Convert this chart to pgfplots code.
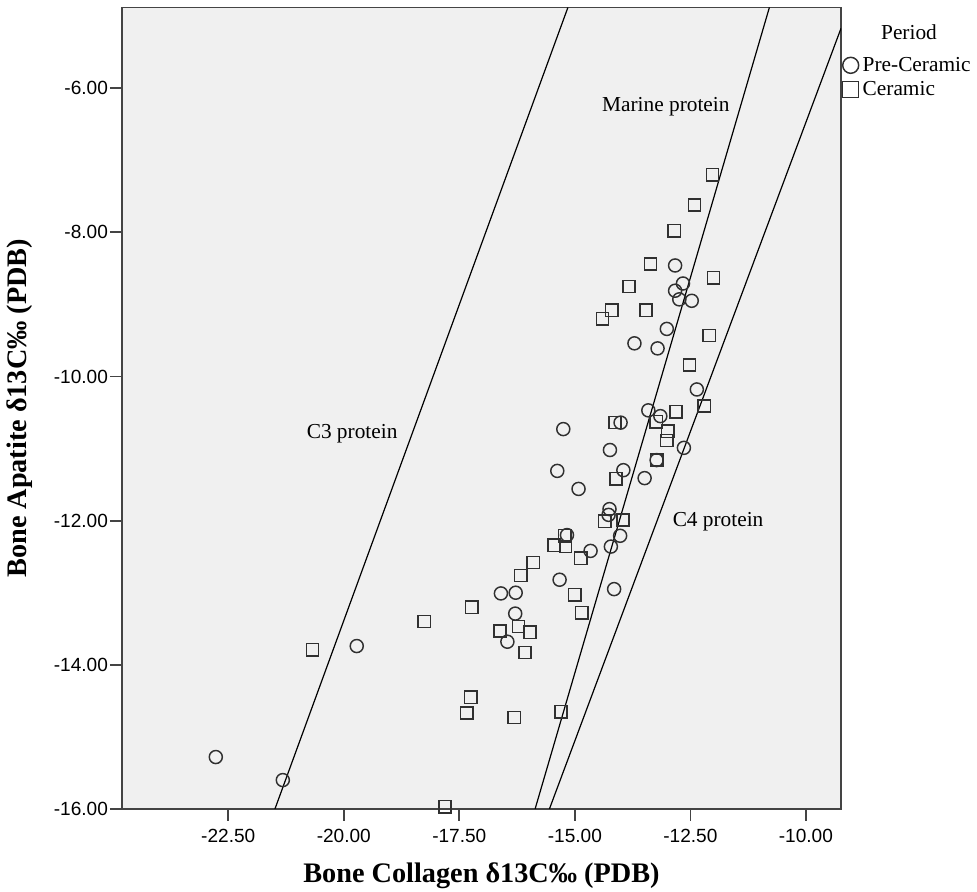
\documentclass[border=0pt]{standalone}
\usepackage{fontspec}
\setmainfont{Liberation Serif}
\newfontfamily\sansf{Liberation Sans}
\usepackage{pgfplots}
\pgfplotsset{compat=1.18}
\definecolor{bggray}{HTML}{F0F0F0}
\definecolor{framegray}{HTML}{444444}
\definecolor{markgray}{HTML}{303030}

\begin{document}
\begin{tikzpicture}
\begin{axis}[
  name=ax,
  scale only axis,
  width=539.25pt, height=601.1pt,
  xmin=-24.8, xmax=-9.24, ymin=-16, ymax=-4.88,
  xtick={-22.5,-20,-17.5,-15,-12.5,-10},
  ytick={-16,-14,-12,-10,-8,-6},
  xtick pos=bottom, ytick pos=left,
  tick align=outside,
  major tick length=9pt,
  tick style={framegray, line width=1.3pt},
  axis line style={framegray, line width=1.3pt},
  axis background/.style={fill=bggray},
  scaled ticks=false,
  /pgf/number format/fixed,
  /pgf/number format/fixed zerofill,
  /pgf/number format/precision=2,
  /pgf/number format/assume math mode=true,
  tick label style={font=\sansf\fontsize{14.3}{16}\selectfont, text=black},
  xticklabel style={yshift=-3pt},
  yticklabel style={xshift=2pt},
  xlabel={Bone Collagen δ13C‰ (PDB)},
  ylabel={Bone Apatite δ13C‰ (PDB)},
  label style={font=\bfseries\fontsize{21.2}{24}\selectfont},
  xlabel style={at={(axis description cs:0.5,-0.0836)}, anchor=center},
  ylabel style={at={(axis description cs:-0.1419,0.5)}, anchor=center},
  legend style={at={(axis description cs:1.002,0.9407)}, anchor=north west,
    draw=none, fill=none, inner sep=0pt, row sep=3pt,
    font=\fontsize{16}{18}\selectfont, nodes={inner xsep=3pt, inner ysep=1.5pt}},
  legend cell align=left,
  legend image post style={mark size=6pt},
]
% reference lines
\addplot[black, line width=0.9pt, forget plot] coordinates {(-21.49,-16) (-15.15,-4.88)};
\addplot[black, line width=0.9pt, forget plot] coordinates {(-15.86,-16) (-10.79,-4.88)};
\addplot[black, line width=0.9pt, forget plot] coordinates {(-15.55,-16) (-9.24,-5.17)};

% Pre-Ceramic
\addplot[only marks, mark=o, mark size=4.9pt, color=markgray, mark options={line width=1.1pt}] coordinates {
  (-22.77,-15.28) (-21.32,-15.60) (-19.72,-13.74) (-16.29,-13.29) (-16.46,-13.68)
  (-16.60,-13.01) (-16.28,-13.00) (-15.33,-12.82) (-14.15,-12.95) (-14.66,-12.42)
  (-14.22,-12.36) (-15.17,-12.20) (-14.02,-12.21) (-14.25,-11.84) (-14.27,-11.92)
  (-14.92,-11.56) (-15.38,-11.31) (-15.25,-10.73) (-14.24,-11.02) (-14.01,-10.64)
  (-13.95,-11.30) (-13.49,-11.41) (-13.41,-10.47) (-13.15,-10.55) (-12.64,-10.99)
  (-13.23,-11.16) (-12.36,-10.18) (-13.71,-9.54) (-13.21,-9.61) (-13.01,-9.34)
  (-12.83,-8.46) (-12.66,-8.71) (-12.83,-8.81) (-12.74,-8.93) (-12.47,-8.95)
};
\addlegendentry{Pre-Ceramic}

% Ceramic
\addplot[only marks, mark=square, mark size=4.6pt, color=markgray, mark options={line width=1.1pt}] coordinates {
  (-20.68,-13.79) (-18.26,-13.40) (-17.23,-13.20) (-16.22,-13.47) (-16.62,-13.53)
  (-15.97,-13.55) (-16.08,-13.83) (-17.25,-14.45) (-17.34,-14.67) (-16.31,-14.73)
  (-15.30,-14.65) (-17.81,-15.97) (-14.85,-13.28) (-15.00,-13.03) (-15.90,-12.58)
  (-16.17,-12.76) (-14.87,-12.52) (-15.45,-12.34) (-15.20,-12.36) (-15.22,-12.21)
  (-14.35,-12.01) (-13.96,-11.99) (-14.11,-11.42) (-14.13,-10.64) (-13.24,-10.63)
  (-12.81,-10.49) (-12.99,-10.76) (-13.01,-10.89) (-13.23,-11.16) (-12.20,-10.41)
  (-12.52,-9.84) (-12.09,-9.43) (-12.02,-7.20) (-12.41,-7.62) (-12.85,-7.98)
  (-13.36,-8.44) (-12.00,-8.63) (-13.83,-8.75) (-14.20,-9.08) (-13.46,-9.08)
  (-14.40,-9.20)
};
\addlegendentry{Ceramic}

\node[font=\fontsize{16}{18}\selectfont] at (axis cs:-13.03,-6.26) {Marine protein};
\node[font=\fontsize{16}{18}\selectfont] at (axis cs:-19.82,-10.80) {C3 protein};
\node[font=\fontsize{16}{18}\selectfont] at (axis cs:-11.90,-12.02) {C4 protein};
\end{axis}
\node[font=\fontsize{16}{18}\selectfont] at ([xshift=51pt,yshift=-18.4pt]ax.north east) {Period};
\pgfresetboundingbox
\path ([xshift=-91.5pt,yshift=-62.25pt]ax.south west) rectangle ([xshift=102pt,yshift=5.6pt]ax.north east);
\end{tikzpicture}
\end{document}
